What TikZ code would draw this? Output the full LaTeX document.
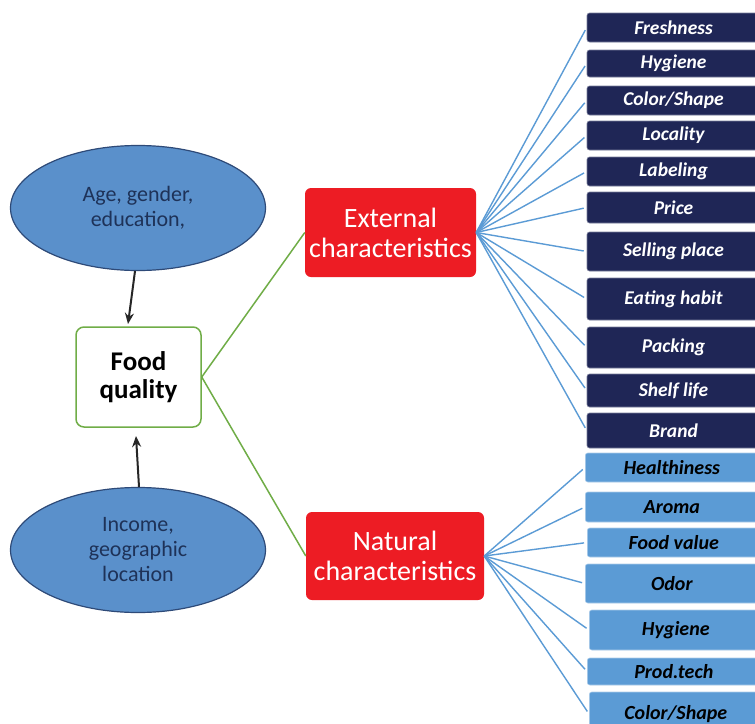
\documentclass[tikz,border=0pt]{standalone}
\usepackage{fontspec}
\setmainfont{Carlito}
\usetikzlibrary{arrows.meta,shapes.geometric}
\definecolor{navybox}{HTML}{1F2656}
\definecolor{lightbox}{HTML}{5B9BD5}
\definecolor{redbox}{HTML}{ED1C24}
\definecolor{ellfill}{HTML}{5A90CB}
\definecolor{elldraw}{HTML}{2E4A78}
\definecolor{elltext}{HTML}{1E3258}
\definecolor{greenline}{HTML}{70AD47}
\definecolor{fanline}{HTML}{5B9BD5}
\tikzset{
  factor/.style={ellipse, fill=ellfill, draw=elldraw, line width=1.2pt,
    text=elltext, align=center, font=\fontsize{22}{25}\selectfont,
    minimum width=255, minimum height=125, inner sep=0pt},
  centerbox/.style={rectangle, rounded corners=8pt, draw=greenline, line width=1.5pt,
    fill=white, align=center, font=\fontsize{27}{28}\selectfont\bfseries,
    minimum width=125, minimum height=100},
  groupbox/.style={rectangle, rounded corners=6pt, fill=redbox, text=white,
    align=center, font=\fontsize{28}{30}\selectfont, inner sep=0pt},
  darkitem/.style={rectangle, rounded corners=2.5pt, fill=navybox, draw=navybox!60!white,
    line width=0.6pt, text=white, font=\fontsize{19.5}{20}\selectfont\bfseries\itshape,
    minimum width=173, inner sep=0pt},
  lightitem/.style={rectangle, rounded corners=2.5pt, fill=lightbox, draw=lightbox!50!white,
    line width=0.6pt, text=black, font=\fontsize{20}{20}\selectfont\bfseries\itshape,
    minimum width=173, inner sep=0pt},
  influence/.style={-{Stealth[length=11pt,width=9pt]}, line width=2pt, black!85},
  mainlink/.style={greenline, line width=1.5pt},
  fanlink/.style={fanline, line width=1.4pt, shorten >=3pt},
}
\begin{document}
\begin{tikzpicture}[x=1pt,y=-1pt]
\clip (0,0) rectangle (755,723);
\fill[white] (0,0) rectangle (755,723);

% personal and economic factors
\node[factor] (demo) at (138,208) {Age, gender,\\education,};
\node[factor] (econ) at (138,550) {Income,\\geographic\\location};

% central concept
\node[centerbox] (fq) at (138.5,377) {Food\\quality};

% arrow ends just short of the central box
\coordinate (demoEnd) at (128,324);
\coordinate (econEnd) at (136,436);
\draw[influence] (demo.south) ++(-3,0) coordinate (demoStart) -- (demoEnd);
\draw[influence] (econ.north) ++(1,0) coordinate (econStart) -- (econEnd);

% characteristic groups
\node[groupbox, minimum width=171, minimum height=89] (ext) at (390.5,232.5) {External\\characteristics};
\node[groupbox, minimum width=178, minimum height=88] (nat) at (395,556) {Natural\\characteristics};

\draw[mainlink] (fq.east) -- (ext.west);
\draw[mainlink] (fq.east) -- (nat.west);

% external characteristics
\foreach \name/\top/\bot/\txt in {
  e1/13/42/Freshness, e2/50/77/Hygiene, e3/86/115/Color\slash Shape,
  e4/121/150/Locality, e5/157/186/Labeling, e6/192/223/Price,
  e7/232/271/Selling place, e8/278/320/Eating habit, e9/327/368/Packing,
  e10/374/407/Shelf life, e11/413/448/Brand}{
  \node[darkitem, minimum height={\bot-\top}] (\name) at (673.5,{(\top+\bot)/2}) {\txt};
  \draw[fanlink] (ext.east) -- (\name.west);
}

% natural characteristics
\foreach \name/\lft/\top/\bot/\txt in {
  n1/585/453/482/Healthiness, n2/585/492/522/Aroma, n3/587/528/557/Food value,
  n4/585/564/603/Odor, n5/589/610/650/Hygiene, n6/587/658/685/Prod.tech,
  n7/589/692/736/Color\slash Shape}{
  \node[lightitem, minimum height={\bot-\top}, anchor=west] (\name) at (\lft,{(\top+\bot)/2}) {\txt};
  \draw[fanlink] (nat.east) -- (\name.west);
}
\end{tikzpicture}
\end{document}
